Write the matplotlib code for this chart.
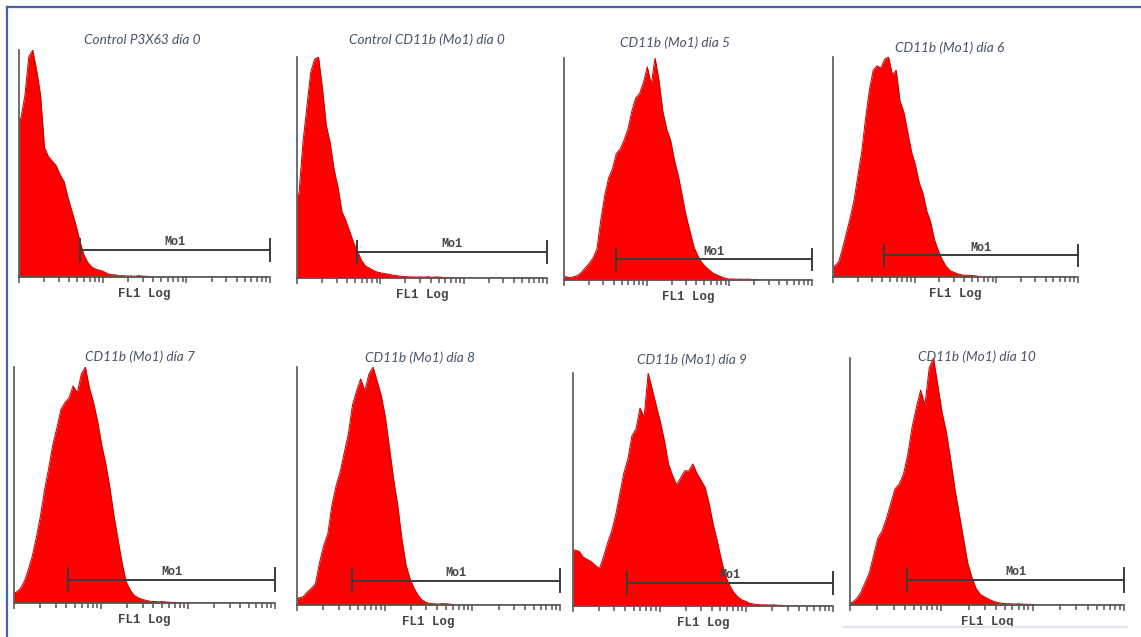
import matplotlib
matplotlib.use("Agg")
import matplotlib.pyplot as plt
import numpy as np
from matplotlib.lines import Line2D

# titles of the 8 panels
titles = [
    "Control P3X63 día 0", "Control CD11b (Mo1) día 0",
    "CD11b (Mo1) día 5", "CD11b (Mo1) día 6",
    "CD11b (Mo1) día 7", "CD11b (Mo1) día 8",
    "CD11b (Mo1) día 9", "CD11b (Mo1) día 10",
]

# FL1 histograms, 64 log channels over 3 decades (trailing channels are 0)
n_bins = 64
h_p3x63_d0 = [70, 80, 97, 100, 91, 80, 57, 53, 51, 49, 45, 42, 35, 29, 23, 16,
              10, 6.5, 4.5, 3.5, 3, 2.5, 1.5, 1, 1, 0.5, 0.6, 0.4, 0.5, 0.3, 0.6, 0.4,
              0.3, 0.2]
h_cd11b_d0 = [38, 61, 77, 93, 99, 100, 86, 69, 61, 49, 41, 30, 26, 21, 16, 12,
              8, 5.5, 4.5, 3.5, 2.7, 2.3, 2, 1.7, 1.3, 1.1, 0.8, 0.7, 0.5, 0.5, 0.4, 0.5,
              0.4, 0.6, 0.3, 0.5, 0.4, 0.3, 0.2]
h_cd11b_d5 = [1.5, 1, 1.5, 2, 3.5, 5.5, 7.5, 10, 14, 27, 38, 46, 50, 57, 59, 63,
              68, 76, 82, 84, 89, 96, 88, 100, 90, 76, 68, 63, 54, 47, 38, 29,
              22, 15, 11, 8, 6, 4.5, 3, 2.3, 1.5, 0.8, 0.4, 0.5, 0.3, 0.4, 0.3, 0.4,
              0.2, 0.3]
h_cd11b_d6 = [5, 7, 13, 20, 27, 35, 46, 57, 72, 85, 94, 96, 95, 99, 100, 92,
              94, 80, 75, 66, 57, 51, 43, 38, 30, 25, 17, 12, 8, 5, 3, 2.2,
              1.5, 1, 0.8, 0.8, 0.6, 0.5]
h_cd11b_d7 = [4.5, 6, 9, 14, 20, 28, 37, 48, 57, 67, 74, 82, 85, 87, 92, 89,
              97, 100, 91, 85, 77, 67, 59, 49, 37, 27, 17, 9, 5.5, 3.2, 2.2, 1.5,
              1.1, 0.7, 0.6, 0.5, 0.6, 0.4, 0.3, 0.2]
h_cd11b_d8 = [3, 3.5, 5.5, 7, 9, 18, 25, 30, 42, 50, 56, 64, 72, 84, 90, 95,
              90, 97, 100, 94, 88, 79, 66, 53, 42, 28, 17, 11, 7, 4, 2, 1,
              0.6, 0.5, 0.4, 0.6, 0.5, 0.3]
h_cd11b_d9 = [24, 23.5, 21, 20, 19, 17.5, 16, 21, 27, 32, 39, 48, 57, 63, 73, 76,
              85, 81, 100, 93, 86, 79, 71, 61, 56, 52, 55, 58, 58, 61, 57, 54,
              51, 44, 35, 28, 20, 13, 9, 6, 4, 2.7, 2, 1.2, 0.8, 0.6, 0.5, 0.5,
              0.4, 0.5, 0.3, 0.3]
h_cd11b_d10 = [1, 2.5, 5, 9, 13, 20, 27, 30, 35, 41, 47, 49, 53, 61, 72, 80,
               87, 81, 96, 100, 89, 78, 70, 59, 47, 37, 27, 17, 11, 6.5, 4.2, 3.2,
               2.3, 1.5, 1, 0.7, 0.5, 0.5, 0.4, 0.5, 0.3, 0.3, 0.2]
hists = [h_p3x63_d0, h_cd11b_d0, h_cd11b_d5, h_cd11b_d6,
         h_cd11b_d7, h_cd11b_d8, h_cd11b_d9, h_cd11b_d10]

# Mo1 marker: start channel (ends at top of scale)
gate_lo = [5.4, 5.2, 4.2, 4.2, 4.2, 4.2, 4.2, 4.2]
gate_hi = 1000

# ---- layout (pixels of the 1141x637 picture) ----
W, H = 1141, 637
axes_px = [  # left, right, top, bottom
    (19, 270, 50, 277), (297, 547, 57, 278), (564, 812, 58, 280), (833, 1078, 57, 277),
    (14, 275, 367, 603), (297, 560, 367, 605), (573, 833, 373, 606), (850, 1124, 358, 605),
]
title_px = [(142, 40), (427, 40), (675, 43), (950, 48),
            (140, 357), (420, 358), (692, 360), (977, 357)]
gate_y = [0.12, 0.118, 0.093, 0.098, 0.099, 0.102, 0.10, 0.101]

red = "#ff0000"
axis_col = "#555555"
mono = ["Liberation Mono", "DejaVu Sans Mono"]

fig = plt.figure(figsize=(W / 100, H / 100), dpi=100)
fig.patch.set_facecolor("white")

edges = np.logspace(0, 3, n_bins + 1)
centers = np.sqrt(edges[:-1] * edges[1:])

for k in range(8):
    L, R, T, B = axes_px[k]
    ax = fig.add_axes([L / W, 1 - B / H, (R - L) / W, (B - T) / H])
    vals = np.array(hists[k], dtype=float)
    vals = np.pad(vals, (0, n_bins - len(vals)))

    # first channel also drawn from the left edge of the scale
    xs = np.concatenate([[edges[0]], centers])
    ys = np.concatenate([[vals[0]], vals])
    ax.fill_between(xs, 0, ys, color=red, lw=0, zorder=1)
    ax.plot(xs, ys, color="#c80000", lw=0.7, zorder=1.2)

    ax.set_xscale("log")
    ax.set_xlim(1, 1000)
    ax.set_ylim(0, vals.max())

    for s in ["top", "right"]:
        ax.spines[s].set_visible(False)
    for s in ["left", "bottom"]:
        ax.spines[s].set_color(axis_col)
        ax.spines[s].set_linewidth(1.2)
        ax.spines[s].set_zorder(3)
    ax.set_yticks([])
    ax.tick_params(axis="x", which="major", direction="out", length=4, width=1.1,
                   color=axis_col, labelbottom=False)
    ax.tick_params(axis="x", which="minor", direction="out", length=3.5, width=1.1,
                   color=axis_col, labelbottom=False)
    ax.set_facecolor("none")

    # Mo1 marker
    tr = ax.get_xaxis_transform()
    gy = gate_y[k]
    gcol = "#3a3a3a"
    ax.plot([gate_lo[k], gate_hi], [gy, gy], color=gcol, lw=1.4, transform=tr,
            clip_on=False, zorder=4, solid_capstyle="butt")
    for gx in (gate_lo[k], gate_hi):
        ax.plot([gx, gx], [gy - 0.048, gy + 0.048], color=gcol, lw=1.4,
                transform=tr, clip_on=False, zorder=4)
    gmid = np.sqrt(gate_lo[k] * gate_hi)
    ax.text(gmid, gy + 0.008, "Mo1", transform=tr, ha="center", va="bottom",
            family=mono, fontsize=8.5, color="#444444", fontweight="bold", zorder=5)

    ax.set_xlabel("FL1 Log", family=mono, fontsize=9, color="#444444",
                  fontweight="bold", labelpad=4)

    tx, ty = title_px[k]
    fig.text(tx / W, 1 - ty / H, titles[k], ha="center", va="center",
             family=["Lato", "DejaVu Sans"], style="italic", fontsize=9.8,
             color="#44546a")

# frame of the original figure (left and top edges)
blue = "#3f62a8"
fig.add_artist(Line2D([7 / W, 7 / W], [0, 1 - 7 / H], color=blue, lw=1.6))
fig.add_artist(Line2D([7 / W, 1], [1 - 7 / H, 1 - 7 / H], color=blue, lw=1.6))
# faint light-blue rule under the last panel
fig.add_artist(Line2D([844 / W, 1127 / W], [1 - 627 / H, 1 - 627 / H],
                      color="#dce6f2", lw=1.5))

fig.savefig("out.png", dpi=100)
